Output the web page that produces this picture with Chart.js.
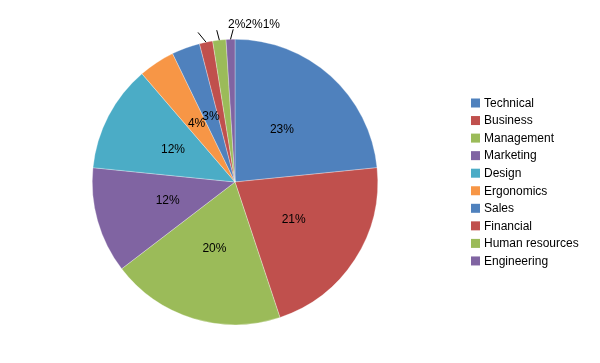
<!DOCTYPE html>
<html>
<head>
<meta charset="utf-8">
<script src="https://cdn.jsdelivr.net/npm/chart.js@4/dist/chart.umd.min.js"></script>
<style>
  html, body { margin: 0; padding: 0; background: #fff; }
  #wrap { width: 600px; height: 363px; position: relative; }
</style>
</head>
<body>
<div id="wrap"><canvas id="pieChart" width="600" height="363"></canvas></div>
<script>
"use strict";

// Chart data
const categories = ['Technical', 'Business', 'Management', 'Marketing', 'Design',
    'Ergonomics', 'Sales', 'Financial', 'Human resources', 'Engineering'];
const shares = [23.4, 21.5, 19.7, 12.0, 12.1, 4.1, 3.2, 1.5, 1.5, 1.0];
const percentLabels = ['23%', '21%', '20%', '12%', '12%', '4%', '3%', '2%', '2%', '1%'];
const sliceColors = ['#4F81BD', '#C0504D', '#9BBB59', '#8064A2', '#4BACC6',
    '#F79646', '#4F81BD', '#C0504D', '#9BBB59', '#8064A2'];

const FONT = '12px "Liberation Sans", Arial, sans-serif';

// Percent labels: inside for big slices, leader lines + top row for tiny ones
const sliceLabels = {
    id: 'sliceLabels',
    afterDatasetsDraw(chart) {
        const ctx = chart.ctx;
        const arcs = chart.getDatasetMeta(0).data;
        ctx.save();
        ctx.font = FONT;
        ctx.fillStyle = '#000';
        ctx.textBaseline = 'middle';
        let small = 0;
        let rowX = null;
        arcs.forEach((arc, i) => {
            const mid = (arc.startAngle + arc.endAngle) / 2;
            const r = arc.outerRadius;
            if (shares[i] >= 3) {
                ctx.textAlign = 'center';
                ctx.fillText(percentLabels[i], arc.x + Math.cos(mid) * r * 0.49, arc.y + Math.sin(mid) * r * 0.49);
            } else {
                const sx = arc.x + Math.cos(mid) * r;
                const sy = arc.y + Math.sin(mid) * r;
                const ex = arc.x + Math.cos(mid) * (r + 10) + (small - 1) * 4.5 - 1.5;
                const ey = arc.y + Math.sin(mid) * (r + 10);
                ctx.strokeStyle = '#000';
                ctx.lineWidth = 1;
                ctx.beginPath();
                ctx.moveTo(sx, sy);
                ctx.lineTo(ex, ey);
                ctx.stroke();
                if (rowX === null) rowX = arc.x - 7;
                ctx.textAlign = 'left';
                ctx.fillText(percentLabels[i], rowX, arc.y - r - 15);
                rowX += ctx.measureText(percentLabels[i]).width;
                small++;
            }
        });
        ctx.restore();
    }
};

// Legend drawn to the right of the pie
const sideLegend = {
    id: 'sideLegend',
    afterDraw(chart) {
        const ctx = chart.ctx;
        ctx.save();
        ctx.font = FONT;
        ctx.textAlign = 'left';
        ctx.textBaseline = 'middle';
        categories.forEach((name, i) => {
            const y = 103 + i * 17.55;
            ctx.fillStyle = sliceColors[i];
            ctx.fillRect(471, y - 4.5, 9, 9);
            ctx.fillStyle = '#000';
            ctx.fillText(name, 484, y + 0.5);
        });
        ctx.restore();
    }
};

const pieChart = new Chart(document.getElementById('pieChart').getContext('2d'), {
    type: 'pie',
    data: {
        labels: categories,
        datasets: [{
            data: shares,
            backgroundColor: sliceColors,
            borderColor: 'rgba(255,255,255,0.6)',
            borderWidth: 0.5
        }]
    },
    options: {
        responsive: false,
        animation: false,
        layout: { padding: { left: 92, right: 222, top: 39, bottom: 38 } },
        plugins: {
            legend: { display: false },
            tooltip: { enabled: false }
        }
    },
    plugins: [sliceLabels, sideLegend]
});
</script>
</body>
</html>
